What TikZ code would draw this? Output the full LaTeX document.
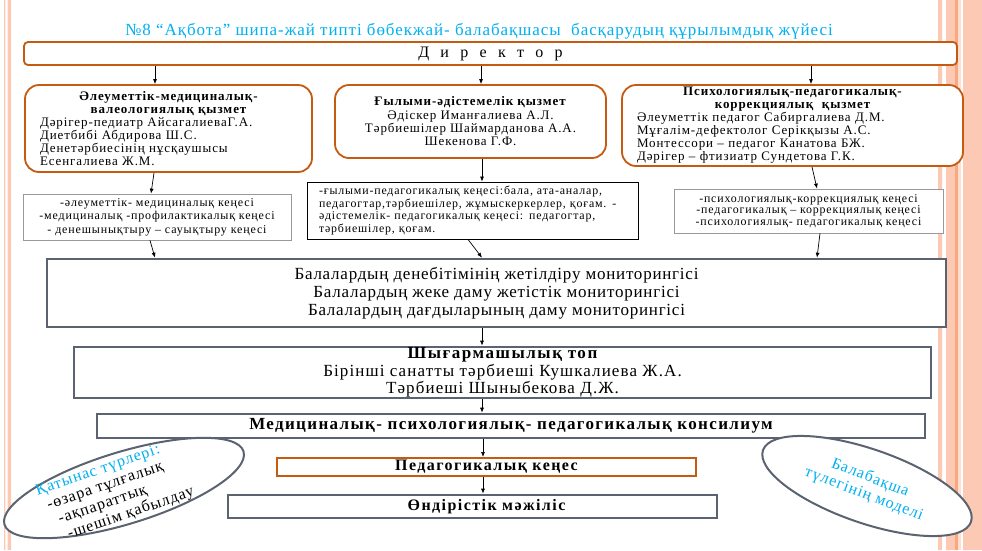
\documentclass[tikz,border=0pt]{standalone}
\usepackage{fontspec}
\setmainfont{Liberation Serif}
\usetikzlibrary{shapes.geometric,arrows.meta}
\definecolor{brick}{RGB}{197,90,17}
\definecolor{slate}{RGB}{92,99,112}
\definecolor{sky}{RGB}{0,176,240}
\definecolor{peach}{RGB}{252,201,180}
\definecolor{peachdark}{RGB}{249,167,127}
\newcommand\wide[3]{\fontsize{#2}{#3}\selectfont\addfontfeature{LetterSpace=#1}}
\tikzset{
  service/.style={draw=brick,line width=1.8pt,rounded corners=14pt,fill=white,inner sep=0pt,font=\wide{7}{13}{13}},
  council/.style={draw=gray!80,line width=0.8pt,fill=white,inner sep=0pt,align=center},
  tier/.style={draw=slate,line width=2.6pt,fill=white,inner sep=0pt,align=center},
  bubble/.style={ellipse,draw=slate,line width=2pt,fill=white,inner sep=0pt},
}

\begin{document}
\begin{tikzpicture}[x=1pt,y=-1pt,>={Latex[length=5pt,width=4pt]}]
  \useasboundingbox (0,0) rectangle (982,550);
  \fill[peach] (4,0) rectangle (5.3,550) (7.5,0) rectangle (11,550);
  \fill[peach] (938,0) rectangle (942,550) (946,0) rectangle (955,550) (963,0) rectangle (982,550);
  \fill[peachdark] (955,0) rectangle (958,550);
  \fill[peach!60] (958,0) rectangle (961,550);
  \draw
    (479,31) node[text=sky,font=\wide{5.5}{17}{19}] (title)
      {№8 “Ақбота” шипа-жай типті бөбекжай- балабақшасы \ басқарудың құрылымдық жүйесі}
    (490.5,53.5) node[service,rounded corners=4pt,minimum width=933pt,minimum height=23pt,
      font=\fontsize{16}{18}\selectfont] (dir) {\spaceskip=11.3pt Д и р е к т о р}
    (168.5,128.5) node[service,minimum width=287pt,minimum height=87pt,text width=257pt,align=left] (social)
      {{\centering\bfseries Әлеуметтік-медициналық-\\валеологиялық қызмет\par}
       Дәрігер-педиатр АйсагалиеваГ.А.\\Диетбибі Абдирова Ш.С.\\Денетәрбиесінің нұсқаушысы\\Есенгалиева Ж.М.}
    (470.5,121.5) node[service,minimum width=271pt,minimum height=73pt,align=center] (science)
      {\textbf{Ғылыми-әдістемелік қызмет}\\[1pt]Әдіскер Иманғалиева А.Л.\\Тәрбиешілер Шаймарданова А.А.\\Шекенова Г.Ф.}
    (792.5,125.5) node[service,minimum width=341pt,minimum height=81pt,text width=311pt,align=left] (psych)
      {{\centering\bfseries Психологиялық-педагогикалық-\\коррекциялық \ қызмет\par}
       Әлеуметтік педагог Сабиргалиева Д.М.\\Мұғалім-дефектолог Серікқызы А.С.\\
       Монтессори – педагог Канатова БЖ.\\Дәрігер – фтизиатр Сундетова Г.К.}
    (157,217) node[council,minimum width=268pt,minimum height=46pt,font=\wide{7}{12}{13.5}] (socialboard)
      {-әлеуметтік- медициналық кеңесі\\-медициналық -профилактикалық кеңесі\\- денешынықтыру – сауықтыру кеңесі}
    (472.5,210.5) node[council,draw=black,minimum width=331pt,minimum height=57pt,text width=307pt,align=left,
      font=\wide{7}{11.9}{12.7}] (scienceboard)
      {-ғылыми-педагогикалық кеңесі:бала, ата-аналар,\\педагогтар,тәрбиешілер, жұмыскеркерлер, қоғам. -\\
       әдістемелік- педагогикалық кеңесі: педагогтар,\\тәрбиешілер, қоғам.}
    (808.5,211) node[council,minimum width=269pt,minimum height=44pt,font=\wide{7}{11.9}{11.7}] (psychboard)
      {-психологиялық-коррекциялық кеңесі\\-педагогикалық – коррекциялық кеңесі\\-психологиялық- педагогикалық кеңесі}
    (496.5,293) node[tier,minimum width=899pt,minimum height=68pt,font=\wide{4.5}{17}{18}] (monitor)
      {Балалардың денебітімінің жетілдіру мониторингісі\\Балалардың жеке даму жетістік мониторингісі\\
       Балалардың дағдыларының даму мониторингісі}
    (502.5,372.5) node[tier,minimum width=857pt,minimum height=51pt,font=\wide{6.5}{17}{17.5}] (creative)
      {{\bfseries\wide{9}{17}{17.5}Шығармашылық топ}\\Бірінші санатты тәрбиеші Кушкалиева Ж.А.\\Тәрбиеші Шыныбекова Д.Ж.}
    (511,426) node[tier,minimum width=828pt,minimum height=24pt,font=\bfseries\wide{8}{17}{18}] (consilium)
      {Медициналық- психологиялық- педагогикалық консилиум}
    (486.5,467) node[tier,draw=brick,line width=2pt,minimum width=419pt,minimum height=18pt,
      font=\bfseries\wide{9}{16}{18}] (pedcouncil) {Педагогикалық кеңес}
    (472.5,506.5) node[tier,minimum width=489pt,minimum height=23pt,font=\bfseries\wide{9}{16}{18}] (meeting)
      {\hspace*{28pt}Өндірістік мәжіліс};
  \draw
    (124,488) node[bubble,rotate=17,minimum width=250pt,minimum height=72pt] (forms) {}
    (115,492) node[rotate=19,align=left,font=\wide{6}{16}{17}] (formstext)
      {{\color{sky}Қатынас түрлері:}\\\hspace*{6pt}-өзара тұлғалық\\\hspace*{12pt}-ақпараттық\\\hspace*{16pt}-шешім қабылдау}
    (867,486) node[bubble,rotate=-19,minimum width=220pt,minimum height=74pt] (graduate) {}
    (867,486) node[rotate=-21,align=center,text=sky,font=\wide{6}{16}{17}] (graduatetext) {Балабақша\\түлегінің моделі};
  \begin{scope}[->,line width=0.7pt]
    \draw (155,0 |- dir.south) -- (155,0 |- social.north);
    \draw (481,0 |- dir.south) -- (481,0 |- science.north);
    \draw (811,0 |- dir.south) -- (811,0 |- psych.north);
    \draw (154,0 |- social.south) -- (151,0 |- socialboard.north);
    \draw (482,0 |- science.south) -- (482,0 |- scienceboard.north);
    \draw (812,0 |- psych.south) -- (817,0 |- psychboard.north);
    \draw (150,0 |- socialboard.south) -- (155,0 |- monitor.north);
    \draw (468,0 |- scienceboard.south) -- (482,0 |- monitor.north);
    \draw (820,0 |- psychboard.south) -- (817,0 |- monitor.north);
    \draw (482,0 |- monitor.south) -- (482,0 |- creative.north);
    \draw (482,0 |- creative.south) -- (482,0 |- consilium.north);
    \draw (483,0 |- consilium.south) -- (483,0 |- pedcouncil.north);
    \draw (483,0 |- pedcouncil.south) -- (483,0 |- meeting.north);
  \end{scope}
\end{tikzpicture}
\end{document}
